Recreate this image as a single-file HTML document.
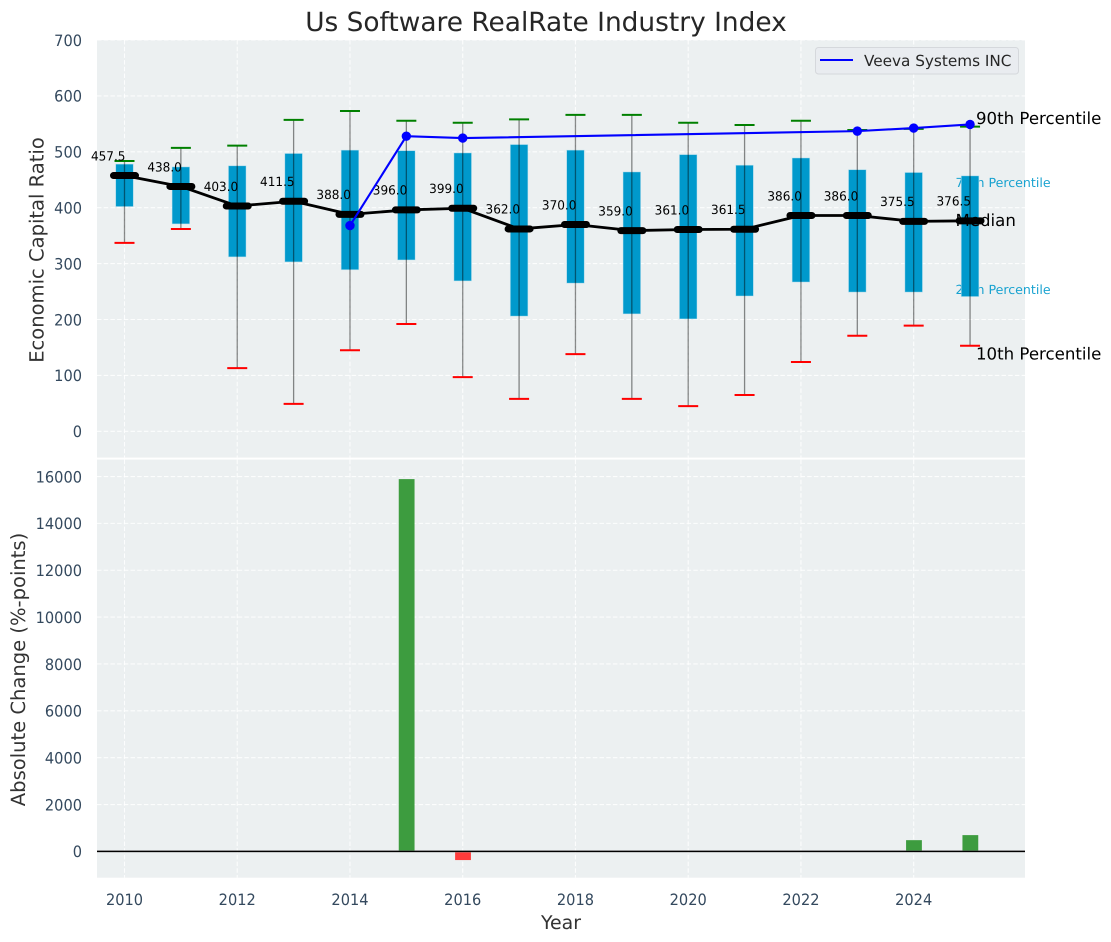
<!DOCTYPE html>
<html>
<head>
<meta charset="utf-8">
<title>Us Software RealRate Industry Index</title>
<style>
html,body{margin:0;padding:0;background:#fff;}
svg{display:block;font-family:"DejaVu Sans","Liberation Sans",sans-serif;text-rendering:geometricPrecision;}
</style>
</head>
<body>
<svg id="chart" xmlns="http://www.w3.org/2000/svg" width="1111" height="942" viewBox="0 0 1111 942"></svg>
<script>
const years = [2010,2011,2012,2013,2014,2015,2016,2017,2018,2019,2020,2021,2022,2023,2024,2025];
const p10 = [337,362,113,49,145,192,97,58,138,58,45,65,124,171,189,153];
const p25 = [402,371,312,303,289,306.5,269,206,265,210,201,242,267,249,249,241];
const medians = [457.5,438,403,411.5,388,396,399,362,370,359,361,361.5,386,386,375.5,376.5];
const p75 = [478,473,475,497,503,502,498,513,503,464,495,476,489,468,463,457];
const p90 = [483.5,507,511,557,573,555.6,552,558,566,566,552,548,555.6,539,541,545];
const medianLabels = ['457.5','438.0','403.0','411.5','388.0','396.0','399.0','362.0','370.0','359.0','361.0','361.5','386.0','386.0','375.5','376.5'];
const veeva = [null,null,null,null,368,528,524.5,null,null,null,null,null,null,537,542.5,549];
const absChange = [0,0,0,0,0,15890,-370,0,0,0,0,0,0,0,480,695];
const upperTicks = [0,100,200,300,400,500,600,700];
const lowerTicks = [0,2000,4000,6000,8000,10000,12000,14000,16000];
const xTicks = [2010,2012,2014,2016,2018,2020,2022,2024];

const NS = 'http://www.w3.org/2000/svg';
const svg = document.getElementById('chart');
const sx = y => 124.5 + (y - 2010) * 56.37;
const sy1 = v => 431.3 - v * 0.559;
const sy2 = v => 851.4 - v * 0.02343;
const L = 97, R = 1025;
const T1 = 40, B1 = 457.6, T2 = 459.6, B2 = 877.7;
const tickFont = 15.6, tickSquash = 0.935;

function mk(tag, attrs, txt){
  const el = document.createElementNS(NS, tag);
  for (const k in attrs) el.setAttribute(k, attrs[k]);
  if (txt !== undefined) el.textContent = txt;
  svg.appendChild(el);
  return el;
}
let el;

/* panels */
el = mk('rect',{x:L,y:T1,width:R-L,height:B1-T1,fill:'#ecf0f1'});


el = mk('rect',{x:L,y:T2,width:R-L,height:B2-T2,fill:'#ecf0f1'});



/* grid */
const gridStyle = {stroke:'#ffffff','stroke-width':1.1,'stroke-dasharray':'4.5 2.2','stroke-opacity':0.85,fill:'none'};
upperTicks.forEach(t => {
  el = mk('line',Object.assign({x1:L,x2:R,y1:sy1(t),y2:sy1(t)},gridStyle));
  
  
  el = mk('text',{transform:`translate(82,${sy1(t)+5.8}) scale(${tickSquash},1)`,'text-anchor':'end','font-size':tickFont,fill:'#34495e'},String(t));
  
  
});
lowerTicks.forEach(t => {
  el = mk('line',Object.assign({x1:L,x2:R,y1:sy2(t),y2:sy2(t)},gridStyle));
  
  
  el = mk('text',{transform:`translate(82,${sy2(t)+5.8}) scale(${tickSquash},1)`,'text-anchor':'end','font-size':tickFont,fill:'#34495e'},String(t));
  
  
});
xTicks.forEach(t => {
  el = mk('line',Object.assign({x1:sx(t),x2:sx(t),y1:T1,y2:B1},gridStyle));
  
  
  el = mk('line',Object.assign({x1:sx(t),x2:sx(t),y1:T2,y2:B2},gridStyle));
  
  
  el = mk('text',{transform:`translate(${sx(t)},905) scale(${tickSquash},1)`,'text-anchor':'middle','font-size':tickFont,fill:'#34495e'},String(t));
  
  
});

/* percentile labels that sit behind the last box */
el = mk('text',{x:955.5,y:187.2,'font-size':12.6,fill:'#0099cc','fill-opacity':0.9},'75th Percentile');


el = mk('text',{x:955.5,y:294.2,'font-size':12.6,fill:'#0099cc','fill-opacity':0.9},'25th Percentile');



/* boxes */
years.forEach((y,i) => {
  const top = sy1(p75[i]), bot = sy1(p25[i]);
  el = mk('rect',{x:sx(y)-8.8,y:top,width:17.6,height:bot-top,fill:'#0099cc',stroke:'#bfe3ef','stroke-width':0.7,'stroke-opacity':0.7});
  
  
});

/* whiskers and caps */
years.forEach((y,i) => {
  const cx = sx(y);
  el = mk('line',{x1:cx,x2:cx,y1:sy1(p90[i]),y2:sy1(p10[i]),stroke:'#000','stroke-opacity':0.45,'stroke-width':1.3});
  
  
  el = mk('line',{x1:cx-10,x2:cx+10,y1:sy1(p90[i]),y2:sy1(p90[i]),stroke:'#008000','stroke-width':2});
  
  
  el = mk('line',{x1:cx-10,x2:cx+10,y1:sy1(p10[i]),y2:sy1(p10[i]),stroke:'#ff0000','stroke-width':2});
  
  
});

/* value labels + remaining percentile labels */
years.forEach((y,i) => {
  el = mk('text',{transform:`translate(${sx(y)-16.3},${sy1(medians[i])-15.2}) scale(0.95,1)`,'text-anchor':'middle','font-size':12.7,fill:'#000'},medianLabels[i]);
  
  
});
el = mk('text',{x:955.5,y:226,'font-size':16.6,fill:'#000'},'Median');


el = mk('text',{x:976,y:124,'font-size':16.6,fill:'#000'},'90th Percentile');


el = mk('text',{x:976,y:359.6,'font-size':16.6,fill:'#000'},'10th Percentile');



/* median line */
el = mk('polyline',{points:years.map((y,i)=>sx(y)+','+sy1(medians[i])).join(' '),fill:'none',stroke:'#000','stroke-width':2.8,'stroke-linejoin':'round'});


years.forEach((y,i) => {
  el = mk('line',{x1:sx(y)-11,x2:sx(y)+11,y1:sy1(medians[i]),y2:sy1(medians[i]),stroke:'#000','stroke-width':7,'stroke-linecap':'round'});
  
  
});

/* company line */
const vPts = years.map((y,i)=>veeva[i]===null?null:sx(y)+','+sy1(veeva[i])).filter(p=>p!==null).join(' ');
el = mk('polyline',{points:vPts,fill:'none',stroke:'#0000ff','stroke-width':2.1});


years.forEach((y,i) => {
  if (veeva[i]===null) return;
  el = mk('circle',{cx:sx(y),cy:sy1(veeva[i]),r:4.7,fill:'#0000ff'});
  
  
});

/* lower bars */
years.forEach((y,i) => {
  const v = absChange[i];
  if (v === 0) return;
  const a = sy2(Math.max(v,0)), b = sy2(Math.min(v,0));
  el = mk('rect',{x:sx(y)-7.6,y:a,width:15.8,height:b-a,fill:v>0?'#3d9c3f':'#ff3b3b'});
  
  
});
el = mk('line',{x1:L,x2:R,y1:sy2(0),y2:sy2(0),stroke:'#888','stroke-opacity':0.6,'stroke-width':2.4});


el = mk('line',{x1:L,x2:R,y1:sy2(0),y2:sy2(0),stroke:'#000','stroke-width':1.3});



/* titles */
el = mk('text',{x:546,y:31,'text-anchor':'middle','font-size':26.4,fill:'#262626'},'Us Software RealRate Industry Index');


el = mk('text',{x:0,y:0,'text-anchor':'middle','font-size':19.55,fill:'#333333',transform:'translate(43.5,250) rotate(-90)'},'Economic Capital Ratio');


el = mk('text',{x:0,y:0,'text-anchor':'middle','font-size':19.55,fill:'#333333',transform:'translate(25,669.5) rotate(-90)'},'Absolute Change (%-points)');


el = mk('text',{x:561,y:929,'text-anchor':'middle','font-size':18.9,fill:'#333333'},'Year');



/* legend */
el = mk('rect',{x:815.5,y:47.5,width:203,height:26.5,rx:3,fill:'#e9ecf0',stroke:'#d5d8dc','stroke-width':1});


el = mk('line',{x1:820,x2:853,y1:60,y2:60,stroke:'#0000ff','stroke-width':2});


el = mk('text',{x:864,y:66,'font-size':15.25,fill:'#262626'},'Veeva Systems INC');


</script>
</body>
</html>
